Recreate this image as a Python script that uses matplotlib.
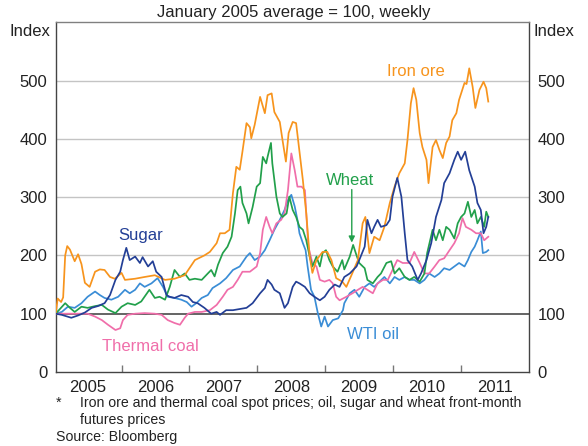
import numpy as np
import matplotlib
matplotlib.use("Agg")
import matplotlib.pyplot as plt

plt.rcParams['font.family'] = ['Liberation Sans', 'DejaVu Sans']

# ----------------------------
# Data (index, Jan 2005 avg = 100); x in decimal years
# ----------------------------

iron_x = [2005.03, 2005.06, 2005.11, 2005.14, 2005.17, 2005.20, 2005.24, 2005.31, 2005.36, 2005.41,
          2005.46, 2005.53, 2005.61, 2005.68, 2005.75, 2005.83, 2005.90, 2006.00, 2006.05, 2006.20,
          2006.34, 2006.49, 2006.64, 2006.78, 2006.93, 2007.08, 2007.15, 2007.22, 2007.30, 2007.40,
          2007.45, 2007.52, 2007.59, 2007.64, 2007.69, 2007.74, 2007.78, 2007.84, 2007.89, 2007.91,
          2007.96, 2008.04, 2008.11, 2008.15, 2008.21, 2008.25, 2008.33, 2008.37, 2008.42, 2008.46,
          2008.52, 2008.57, 2008.62, 2008.67, 2008.72, 2008.77, 2008.81, 2008.87, 2008.96, 2009.03,
          2009.09, 2009.16, 2009.25, 2009.31, 2009.40, 2009.48, 2009.55, 2009.59, 2009.65, 2009.72,
          2009.80, 2009.87, 2009.95, 2010.02, 2010.09, 2010.17, 2010.21, 2010.26, 2010.30, 2010.34,
          2010.39, 2010.43, 2010.49, 2010.52, 2010.58, 2010.63, 2010.68, 2010.73, 2010.78, 2010.83,
          2010.87, 2010.93, 2010.97, 2011.05, 2011.08, 2011.12, 2011.17, 2011.21, 2011.27, 2011.33,
          2011.37, 2011.40]
iron_y = [100, 126, 120, 128, 200, 216, 210, 190, 202, 185,
          153, 146, 172, 176, 175, 163, 160, 170, 158, 160,
          163, 166, 158, 160, 166, 192, 196, 200, 206, 221,
          238, 238, 244, 307, 352, 347, 378, 427, 420, 401,
          424, 472, 444, 475, 478, 446, 429, 398, 361, 410,
          429, 427, 378, 329, 272, 198, 170, 192, 206, 206,
          192, 161, 155, 146, 170, 192, 255, 266, 204, 232,
          226, 249, 290, 318, 341, 358, 398, 461, 487, 467,
          410, 386, 364, 324, 386, 398, 381, 367, 393, 404,
          432, 444, 467, 496, 494, 521, 489, 453, 484, 498,
          487, 464]

sugar_x = [2005.03, 2005.12, 2005.26, 2005.36, 2005.46, 2005.56, 2005.65, 2005.75, 2005.83, 2005.91,
           2005.98, 2006.02, 2006.07, 2006.12, 2006.20, 2006.27, 2006.31, 2006.39, 2006.46, 2006.51,
           2006.59, 2006.66, 2006.71, 2006.78, 2006.88, 2006.98, 2007.05, 2007.12, 2007.22, 2007.32,
           2007.40, 2007.45, 2007.54, 2007.64, 2007.74, 2007.84, 2007.93, 2008.04, 2008.11, 2008.15,
           2008.21, 2008.25, 2008.33, 2008.40, 2008.45, 2008.52, 2008.57, 2008.62, 2008.70, 2008.77,
           2008.84, 2008.92, 2008.99, 2009.06, 2009.14, 2009.21, 2009.28, 2009.36, 2009.46, 2009.50,
           2009.58, 2009.62, 2009.68, 2009.72, 2009.77, 2009.82, 2009.90, 2009.95, 2009.99, 2010.06,
           2010.12, 2010.17, 2010.21, 2010.28, 2010.36, 2010.41, 2010.49, 2010.56, 2010.63, 2010.71,
           2010.75, 2010.83, 2010.90, 2010.95, 2011.00, 2011.06, 2011.12, 2011.20, 2011.24, 2011.29,
           2011.33, 2011.37, 2011.40]
sugar_y = [100, 98, 93, 97, 102, 110, 113, 118, 132, 158,
           172, 192, 213, 192, 198, 187, 197, 181, 190, 172,
           163, 132, 129, 127, 132, 129, 120, 118, 110, 100,
           103, 98, 106, 106, 108, 110, 118, 135, 144, 158,
           150, 141, 135, 110, 118, 146, 155, 152, 146, 135,
           129, 123, 129, 141, 150, 146, 163, 169, 181, 192,
           215, 261, 238, 249, 261, 249, 252, 261, 301, 333,
           301, 238, 192, 181, 158, 169, 192, 221, 266, 295,
           324, 341, 364, 378, 364, 378, 346, 318, 290, 278,
           238, 249, 266]

wheat_x = [2005.03, 2005.17, 2005.24, 2005.31, 2005.41, 2005.50, 2005.61, 2005.71, 2005.80, 2005.91,
           2006.00, 2006.09, 2006.20, 2006.29, 2006.41, 2006.49, 2006.56, 2006.64, 2006.71, 2006.78,
           2006.86, 2006.93, 2007.00, 2007.08, 2007.18, 2007.27, 2007.32, 2007.37, 2007.42, 2007.49,
           2007.56, 2007.62, 2007.67, 2007.71, 2007.75, 2007.78, 2007.84, 2007.87, 2007.93, 2007.99,
           2008.04, 2008.08, 2008.13, 2008.15, 2008.20, 2008.22, 2008.28, 2008.33, 2008.37, 2008.43,
           2008.47, 2008.52, 2008.57, 2008.62, 2008.67, 2008.72, 2008.77, 2008.81, 2008.87, 2008.92,
           2008.96, 2009.01, 2009.06, 2009.11, 2009.18, 2009.25, 2009.28, 2009.36, 2009.41, 2009.46,
           2009.50, 2009.58, 2009.62, 2009.70, 2009.77, 2009.82, 2009.90, 2009.97, 2010.02, 2010.09,
           2010.17, 2010.24, 2010.31, 2010.39, 2010.46, 2010.50, 2010.58, 2010.63, 2010.68, 2010.73,
           2010.78, 2010.83, 2010.90, 2010.95, 2011.00, 2011.05, 2011.10, 2011.15, 2011.20, 2011.24,
           2011.29, 2011.34, 2011.37, 2011.40]
wheat_y = [100, 118, 110, 103, 112, 110, 113, 115, 107, 101,
           112, 118, 115, 121, 141, 127, 129, 124, 146, 175,
           163, 169, 158, 160, 158, 169, 175, 164, 184, 204,
           215, 232, 272, 312, 318, 290, 272, 255, 283, 318,
           324, 369, 358, 369, 393, 358, 301, 272, 266, 272,
           301, 278, 266, 249, 244, 226, 198, 181, 198, 181,
           204, 209, 192, 181, 172, 192, 176, 198, 218, 200,
           187, 178, 158, 152, 163, 169, 187, 190, 169, 178,
           163, 158, 163, 155, 169, 204, 244, 226, 244, 226,
           249, 244, 229, 255, 266, 272, 292, 266, 278, 255,
           266, 249, 275, 266]

coal_x = [2005.03, 2005.50, 2005.61, 2005.71, 2005.80, 2005.91, 2005.98, 2006.02, 2006.09, 2006.20,
          2006.34, 2006.49, 2006.59, 2006.68, 2006.78, 2006.86, 2006.93, 2006.98, 2007.08, 2007.18,
          2007.30, 2007.40, 2007.49, 2007.56, 2007.64, 2007.71, 2007.78, 2007.89, 2007.99, 2008.04,
          2008.08, 2008.13, 2008.18, 2008.22, 2008.28, 2008.35, 2008.40, 2008.45, 2008.50, 2008.55,
          2008.59, 2008.65, 2008.70, 2008.72, 2008.75, 2008.81, 2008.87, 2008.92, 2008.99, 2009.06,
          2009.11, 2009.16, 2009.21, 2009.31, 2009.40, 2009.48, 2009.55, 2009.62, 2009.70, 2009.77,
          2009.85, 2009.92, 2009.99, 2010.06, 2010.14, 2010.24, 2010.31, 2010.39, 2010.46, 2010.53,
          2010.61, 2010.68, 2010.75, 2010.83, 2010.90, 2010.97, 2011.02, 2011.07, 2011.15, 2011.22,
          2011.29, 2011.34, 2011.40]
coal_y = [100, 100, 95, 89, 81, 72, 75, 89, 98, 100,
          101, 100, 98, 89, 84, 81, 93, 100, 103, 103,
          106, 115, 129, 141, 146, 158, 172, 172, 181, 204,
          244, 266, 249, 238, 255, 261, 272, 312, 375, 346,
          318, 318, 312, 272, 215, 187, 181, 158, 155, 158,
          152, 129, 123, 129, 135, 141, 146, 141, 135, 152,
          158, 158, 175, 192, 187, 187, 206, 187, 169, 169,
          181, 192, 195, 209, 221, 238, 264, 249, 244, 238,
          238, 226, 232]

oil_x = [2005.03, 2005.12, 2005.21, 2005.31, 2005.41, 2005.50, 2005.61, 2005.68, 2005.75, 2005.85,
         2005.95, 2006.05, 2006.12, 2006.20, 2006.27, 2006.34, 2006.44, 2006.53, 2006.61, 2006.68,
         2006.78, 2006.88, 2006.96, 2007.03, 2007.10, 2007.18, 2007.27, 2007.34, 2007.45, 2007.54,
         2007.64, 2007.74, 2007.84, 2007.89, 2007.96, 2008.04, 2008.11, 2008.18, 2008.25, 2008.33,
         2008.40, 2008.45, 2008.50, 2008.55, 2008.59, 2008.62, 2008.67, 2008.71, 2008.74, 2008.79,
         2008.84, 2008.89, 2008.94, 2008.99, 2009.04, 2009.11, 2009.19, 2009.26, 2009.28, 2009.36,
         2009.43, 2009.50, 2009.58, 2009.65, 2009.72, 2009.80, 2009.87, 2009.95, 2010.02, 2010.09,
         2010.17, 2010.24, 2010.31, 2010.39, 2010.46, 2010.53, 2010.61, 2010.68, 2010.75, 2010.83,
         2010.90, 2010.97, 2011.05, 2011.10, 2011.15, 2011.20, 2011.24, 2011.29, 2011.32, 2011.37,
         2011.40]
oil_y = [100, 103, 112, 110, 118, 129, 138, 132, 127, 124,
         129, 141, 135, 141, 152, 146, 152, 161, 146, 129,
         127, 124, 120, 112, 118, 127, 132, 144, 152, 161,
         175, 181, 198, 204, 192, 198, 209, 226, 244, 261,
         278, 295, 304, 284, 261, 238, 221, 209, 181, 141,
         129, 101, 78, 95, 78, 89, 92, 106, 118, 135,
         141, 129, 146, 152, 146, 155, 163, 152, 163, 158,
         163, 158, 158, 152, 158, 169, 163, 169, 178, 175,
         181, 187, 181, 192, 206, 215, 226, 241, 204, 206,
         209]

years = ['2005', '2006', '2007', '2008', '2009', '2010', '2011']

# ----------------------------
# Colours
# ----------------------------

C_IRON = '#F7941D'
C_SUGAR = '#233F96'
C_WHEAT = '#22A04B'
C_COAL = '#F06EAA'
C_OIL = '#3A8DD6'

# ----------------------------
# Plot
# ----------------------------

fig = plt.figure(figsize=(5.88, 4.46), dpi=100)
ax = fig.add_axes([0.0947, 0.166, 0.805, 0.784])

for yv in [200, 300, 400, 500]:
    ax.axhline(yv, color='#c4c4c4', lw=1.0, zorder=1)
ax.axhline(100, color='#3a3a3a', lw=1.1, zorder=1)

lw = 1.25
ax.plot(oil_x, oil_y, color=C_OIL, lw=lw, zorder=3)
ax.plot(coal_x, coal_y, color=C_COAL, lw=lw, zorder=3)
ax.plot(wheat_x, wheat_y, color=C_WHEAT, lw=lw, zorder=3)
ax.plot(sugar_x, sugar_y, color=C_SUGAR, lw=lw, zorder=4)
ax.plot(iron_x, iron_y, color=C_IRON, lw=lw, zorder=3)

ax.set_xlim(2005.03, 2012.0)
ax.set_ylim(0, 600)

# year boundaries as ticks, labels in the middle of each year
ax.set_xticks(np.arange(2006, 2012))
ax.set_xticklabels([])
ax.set_xticks(np.arange(2005.5, 2012, 1.0), minor=True)
ax.set_xticklabels(years, minor=True)
ax.tick_params(axis='x', which='major', direction='in', length=5, color='#777777', width=1)
ax.tick_params(axis='x', which='minor', length=0, pad=6, labelsize=12, labelcolor='#222222')

ax.set_yticks([0, 100, 200, 300, 400, 500])
ax.tick_params(axis='y', length=0, pad=6, labelsize=12, labelcolor='#222222',
               labelleft=True, labelright=True)

for s in ax.spines.values():
    s.set_color('#444444')
    s.set_linewidth(1.0)
ax.spines['top'].set_color('#808080')

fig.text(0.5, 0.972, 'January 2005 average = 100, weekly', ha='center', va='center',
         fontsize=12, color='#222222')
fig.text(0.086, 0.93, 'Index', ha='right', va='center', fontsize=12, color='#222222')
fig.text(0.908, 0.93, 'Index', ha='left', va='center', fontsize=12, color='#222222')

# series labels
ax.text(2010.33, 516, 'Iron ore', color=C_IRON, fontsize=12, ha='center', va='center')
ax.text(2006.28, 235, 'Sugar', color=C_SUGAR, fontsize=12, ha='center', va='center')
ax.text(2006.42, 43, 'Thermal coal', color=C_COAL, fontsize=12, ha='center', va='center')
ax.text(2009.36, 329, 'Wheat', color=C_WHEAT, fontsize=12, ha='center', va='center')
ax.text(2009.70, 65, 'WTI oil', color=C_OIL, fontsize=12, ha='center', va='center')
ax.annotate('', xy=(2009.39, 222), xytext=(2009.39, 313),
            arrowprops=dict(arrowstyle='-|>', color=C_WHEAT, lw=1.0,
                            mutation_scale=9, shrinkA=0, shrinkB=0))

# footnotes
fn = 10.2
fig.text(0.095, 0.096, '*', ha='left', va='center', fontsize=fn, color='#222222')
fig.text(0.136, 0.096, 'Iron ore and thermal coal spot prices; oil, sugar and wheat front-month',
         ha='left', va='center', fontsize=fn, color='#222222')
fig.text(0.136, 0.058, 'futures prices', ha='left', va='center', fontsize=fn, color='#222222')
fig.text(0.095, 0.02, 'Source: Bloomberg', ha='left', va='center', fontsize=fn, color='#222222')

fig.savefig('out.png', dpi=100)
